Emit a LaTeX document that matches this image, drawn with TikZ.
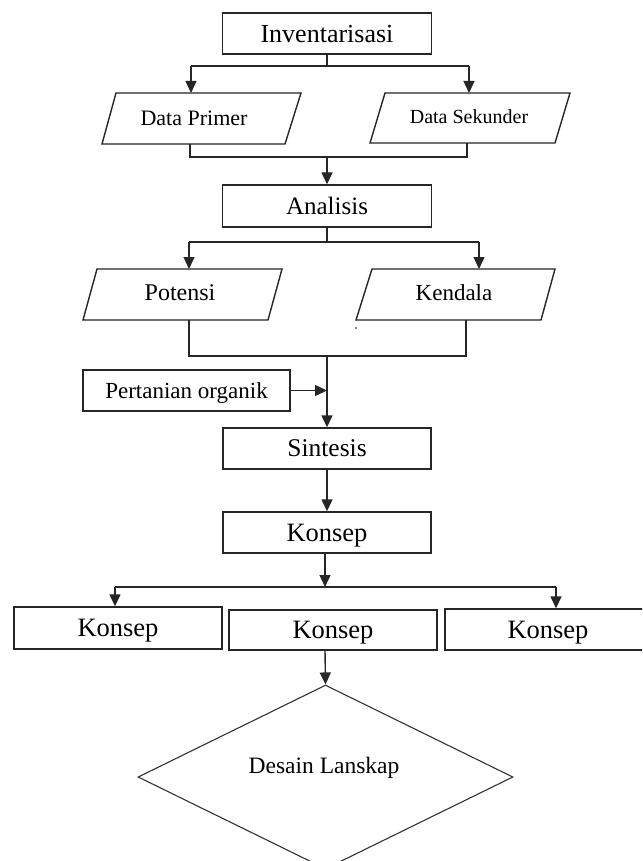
\documentclass[tikz,border=0pt]{standalone}
\usepackage{fontspec}
\setmainfont{Liberation Serif}
\usetikzlibrary{arrows.meta,shapes.geometric}
\newcommand\fsz[1]{\fontsize{#1}{#1}\selectfont}
\begin{document}
\begin{tikzpicture}[x=1pt,y=-1pt,
  ln/.style={line width=1.4pt,draw=black!85},
  arr/.style={ln,-{Triangle[length=12pt,width=11pt]}},
  box/.style={draw=black!85,line width=1.4pt,rectangle,inner sep=0pt,text depth=0pt},
  lbl/.style={inner sep=0pt,text=black,text depth=0pt},
  dia/.style={draw=black!80,line width=1.1pt,diamond,inner sep=0pt,minimum width=375pt,minimum height=184pt}
]
\useasboundingbox (0,0) rectangle (642,861);
\fill[white] (0,0) rectangle (642,861);
\clip (0,0) rectangle (642,861);

% Inventarisasi
\node[box,minimum width=209pt,minimum height=41pt,font=\fsz{26},text height=17.2pt] (inv) at (327,33.5) {Inventarisasi};

% Data Primer / Data Sekunder
\draw[ln] (116,93) -- (301,93) -- (285,144) -- (102,144) -- cycle;
\node[lbl,font=\fsz{22},text height=14.5pt] (dp) at (194,118.5) {Data Primer};
\draw[ln] (385,93) -- (570,93) -- (555,143) -- (370,143) -- cycle;
\node[lbl,font=\fsz{20},text height=13.2pt] (ds) at (469,117) {Data Sekunder};
\coordinate (dpT) at (191,93);
\coordinate (dsT) at (469,93);
\coordinate (dpB) at (190,144);
\coordinate (dsB) at (467,143);

\draw[ln] (inv.south) -- (327,66) coordinate (s1);
\draw[ln] (191,66) coordinate (s1l) -- (469,66) coordinate (s1r);
\draw[arr] (s1l) -- (dpT);
\draw[arr] (s1r) -- (dsT);

\draw[ln] (dpB) -- (190,157) -- (467,157) -- (dsB);

% Analisis
\node[box,minimum width=209pt,minimum height=42pt,font=\fsz{25},text height=16.5pt] (ana) at (327,206) {Analisis};
\draw[arr] (327,157) coordinate (m1) -- (ana.north);

% Potensi / Kendala
\draw[ln] (ana.south) -- (327,242);
\draw[ln] (189,242) coordinate (s2l) -- (479,242) coordinate (s2r);
\draw[ln] (97,269) -- (282,269) -- (268,320) -- (83,320) -- cycle;
\node[lbl,font=\fsz{24},text height=15.8pt] (pot) at (180,293) {Potensi};
\draw[ln] (372,269) -- (555,269) -- (541,320) -- (356,320) -- cycle;
\node[lbl,font=\fsz{23},text height=15.2pt] (ken) at (454,293) {Kendala};
\coordinate (potT) at (189,269);
\coordinate (kenT) at (479,269);
\coordinate (potB) at (189,320);
\coordinate (kenB) at (466,320);
\draw[arr] (s2l) -- (potT);
\draw[arr] (s2r) -- (kenT);
\fill[blue!75] (356,328) circle (1.2pt);

\draw[ln] (potB) -- (189,356) -- (466,356) -- (kenB);

% Pertanian organik
\node[box,minimum width=207pt,minimum height=41pt,font=\fsz{23},text height=15.2pt] (pert) at (186.5,390.5) {Pertanian organik};

% Sintesis
\node[box,minimum width=208pt,minimum height=41pt,font=\fsz{25.5},text height=16.8pt] (sin) at (327,448.5) {Sintesis};
\draw[arr] (327,356) coordinate (m2) -- (sin.north);
\draw[arr] (pert.east) -- (327,390.5);

% Konsep
\node[box,minimum width=208pt,minimum height=41pt,font=\fsz{26.5},text height=17.5pt] (kon) at (327,532.5) {Konsep};
\draw[arr] (sin.south) -- (kon.north);

% three Konsep
\node[box,minimum width=208pt,minimum height=42pt,font=\fsz{26.5},text height=17.5pt] (k1) at (118,628) {Konsep};
\node[box,minimum width=208pt,minimum height=40pt,font=\fsz{26.5},text height=17.5pt] (k2) at (333,630) {Konsep};
\node[box,minimum width=206pt,minimum height=41pt,font=\fsz{26.5},text height=17.5pt] (k3) at (548,629.5) {Konsep};

\draw[arr] (325,553) -- (325,587) coordinate (s3);
\draw[ln] (115,587) coordinate (s3l) -- (556,587) coordinate (s3r);
\draw[arr] (s3l) -- (s3l |- k1.north);
\draw[arr] (s3r) -- (s3r |- k3.north);

% Desain Lanskap
\node[dia] (dl) at (325.5,777) {};
\node[lbl,font=\fsz{23.5},text height=15.5pt] (dlt) at (324,766) {Desain Lanskap};
\draw[arr] (325,650) -- (dl.north);
\end{tikzpicture}
\end{document}
